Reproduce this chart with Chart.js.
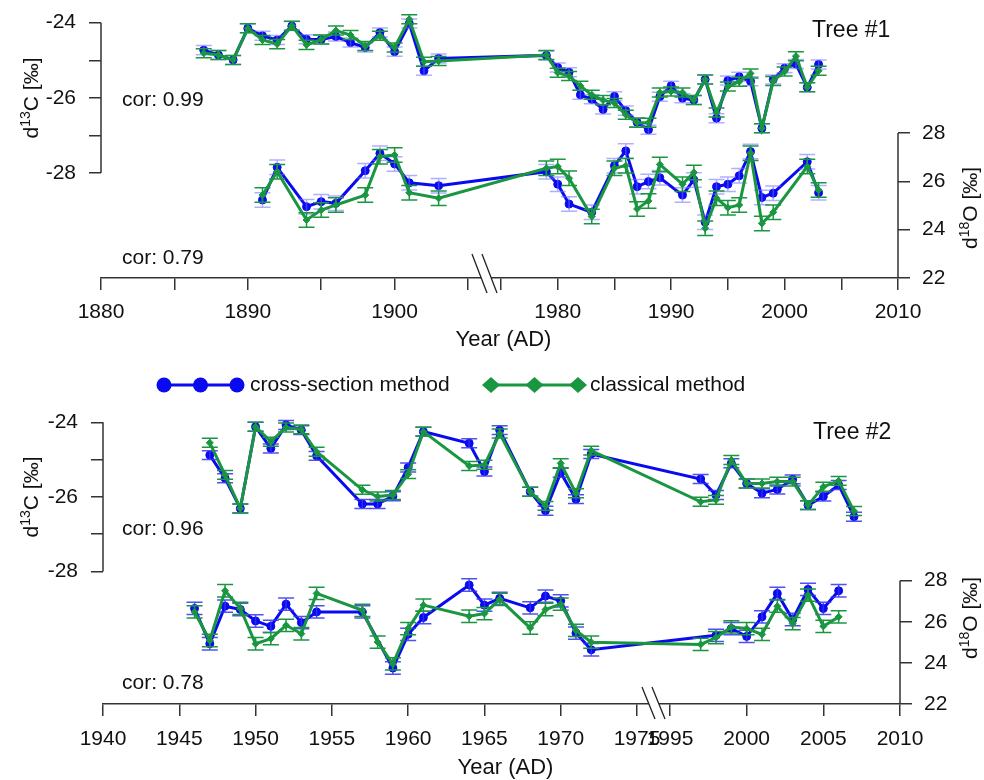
<!DOCTYPE html>
<html><head><meta charset="utf-8">
<script src="https://cdn.jsdelivr.net/npm/chart.js@4.4.1/dist/chart.umd.min.js"></script>
<style>
html,body{margin:0;padding:0;background:#fff;width:984px;height:780px;overflow:hidden}
.wrap{position:absolute;left:0;width:984px}
#w1{top:0;height:400px}
#w2{top:400px;height:380px}
</style></head><body>
<div class="wrap" id="w1"><canvas id="c1" width="984" height="400"></canvas></div>
<div class="wrap" id="w2"><canvas id="c2" width="984" height="380"></canvas></div>
<script>
// ---------------- DATA ----------------
// Tree #1
const tree1YearsC13 = [1887,1888,1889,1890,1891,1892,1893,1894,1895,1896,1897,1898,1899,1900,1901,1902,1903,
  1979,1980,1981,1982,1983,1984,1985,1986,1987,1988,1989,1990,1991,1992,1993,1994,1995,1996,1997,1998,1999,2000,2001,2002,2003];
const tree1CrossC13 = [-24.73,-24.86,-24.99,-24.15,-24.35,-24.46,-24.09,-24.44,-24.45,-24.37,-24.53,-24.66,-24.26,-24.77,-24.02,-25.28,-24.95,
  -24.87,-25.19,-25.32,-25.92,-26.04,-26.31,-25.96,-26.34,-26.65,-26.85,-25.97,-25.68,-26.01,-26.06,-25.51,-26.54,-25.54,-25.44,-25.56,-26.81,-25.51,-25.21,-25.10,-25.72,-25.11];
const tree1ClassC13 = [-24.81,-24.86,-24.99,-24.15,-24.46,-24.57,-24.08,-24.59,-24.45,-24.21,-24.33,-24.62,-24.35,-24.66,-23.91,-25.04,-25.02,
  -24.86,-25.33,-25.42,-25.68,-25.92,-26.06,-26.14,-26.45,-26.66,-26.66,-25.86,-25.83,-25.86,-26.06,-25.51,-26.39,-25.70,-25.57,-25.35,-26.81,-25.55,-25.30,-24.89,-25.72,-25.28];
const tree1YearsO18 = [1891,1892,1894,1895,1896,1898,1899,1900,1901,1903,
  1979,1980,1981,1983,1985,1986,1987,1988,1989,1991,1992,1993,1994,1995,1996,1997,1998,1999,2002,2003];
const tree1CrossO18 = [25.23,26.58,24.95,25.16,25.09,26.44,27.16,26.72,25.94,25.82,
  26.40,25.88,25.06,24.72,26.65,27.26,25.78,25.99,26.15,25.43,26.06,24.31,25.78,25.88,26.23,27.23,25.33,25.51,26.81,25.53];
const tree1ClassO18 = [25.43,26.40,24.40,24.81,25.02,25.43,27.02,27.09,25.53,25.30,
  26.54,26.61,26.13,24.54,26.54,26.65,24.86,25.19,26.70,25.88,26.37,24.06,25.30,24.91,25.02,27.16,24.26,24.72,26.61,25.64];
const tree1XTickYears  = [1880,1885,1890,1895,1900,1905,1975,1980,1985,1990,1995,2000,2005,2010];
const tree1XTickLabels = ['1880','','1890','','1900','','','1980','','1990','','2000','','2010'];
const tree1Cor = ['cor: 0.99','cor: 0.79'];

// Tree #2
const tree2YearsC13 = [1947,1948,1949,1950,1951,1952,1953,1954,1957,1958,1959,1960,1961,1964,1965,1966,1968,1969,1970,1971,1972,
  1997,1998,1999,2000,2001,2002,2003,2004,2005,2006,2007];
const tree2CrossC13 = [-24.88,-25.50,-26.31,-24.12,-24.70,-24.07,-24.21,-24.90,-26.19,-26.19,-25.98,-25.21,-24.25,-24.56,-25.32,-24.21,-25.86,-26.37,-25.35,-26.06,-24.85,
  -25.52,-25.95,-25.10,-25.64,-25.90,-25.80,-25.53,-26.22,-25.99,-25.68,-26.53];
const tree2ClassC13 = [-24.55,-25.41,-26.31,-24.12,-24.52,-24.14,-24.19,-24.79,-25.81,-25.99,-25.95,-25.39,-24.25,-25.17,-25.14,-24.30,-25.86,-26.24,-25.10,-25.90,-24.76,
  -26.13,-26.08,-25.01,-25.64,-25.64,-25.59,-25.59,-26.22,-25.73,-25.57,-26.38];
const tree2YearsO18Cross = [1946,1947,1948,1949,1950,1951,1952,1953,1954,1957,1959,1960,1961,1964,1965,1966,1968,1969,1970,1971,1972,
  1998,1999,2000,2001,2002,2003,2004,2005,2006];
const tree2CrossO18 = [26.65,24.93,26.76,26.60,26.04,25.78,26.86,25.96,26.48,26.48,23.75,25.39,26.21,27.79,26.81,27.14,26.68,27.25,27.02,25.45,24.64,
  25.34,25.67,25.29,26.24,27.38,26.11,27.58,26.65,27.51];
const tree2YearsO18Class = [1946,1947,1948,1949,1950,1951,1952,1953,1954,1957,1958,1959,1960,1961,1964,1965,1966,1968,1969,1970,1971,1972,
  1997,1998,1999,2000,2001,2002,2003,2004,2005,2006];
const tree2ClassO18 = [26.48,25.09,27.51,26.65,24.93,25.18,25.83,25.42,27.38,26.56,25.01,23.95,25.67,26.81,26.27,26.40,27.09,25.70,26.60,26.86,25.58,25.01,
  24.90,25.23,25.75,25.67,25.39,26.76,25.91,27.30,25.78,26.24];
const tree2XTickYears  = [1940,1945,1950,1955,1960,1965,1970,1975,1995,2000,2005,2010];
const tree2XTickLabels = ['1940','1945','1950','1955','1960','1965','1970','1975','1995','2000','2005','2010'];
const tree2Cor = ['cor: 0.96','cor: 0.78'];

const c13Ticks = [-28,-27,-26,-25,-24];
const c13TickLabels = ['-28','','-26','','-24'];
const o18Ticks = [22,24,26,28];
const o18TickLabels = ['22','24','26','28'];
const c13Err = 0.12;
const o18Err = 0.3;
const seriesNames = ['cross-section method','classical method'];

// ---------------- STYLE / LAYOUT ----------------
const FONT = '"Liberation Sans", Arial, Helvetica, sans-serif';
const f = px => px + 'px ' + FONT;
const BLUE = '#0a0af0';
const GREEN = '#1a9641';
const AXIS = '#333333';
const TXT = '#111111';

function makeMap(s){
  return yr => yr <= s.a1 ? (yr - s.a0)/(s.a1 - s.a0)*s.w1
                          : s.w1 + s.gap + (yr - s.b0)/(s.b1 - s.b0)*s.w2;
}
function fitRange(vHi, pHi, vLo, pLo, top, bottom){
  const k = (vHi - vLo)/(pLo - pHi);
  return {max: vHi + (pHi - top)*k, min: vLo - (bottom - pLo)*k};
}
const pts = (years, vals, map) => years.map((y,i)=>({x: map(y), y: vals[i]}));

function drawRotTitle(ctx, cx, cy, pre, sup, post){
  ctx.save();
  ctx.translate(cx, cy);
  ctx.rotate(-Math.PI/2);
  ctx.fillStyle = TXT;
  ctx.textBaseline = 'alphabetic';
  ctx.font = f(21); const w1 = ctx.measureText(pre).width, w3 = ctx.measureText(post).width;
  ctx.font = f(14); const w2 = ctx.measureText(sup).width;
  let x = -(w1+w2+w3)/2; const base = 7;
  ctx.font = f(21); ctx.textAlign='left'; ctx.fillText(pre, x, base); x += w1;
  ctx.font = f(14); ctx.fillText(sup, x, base - 8); x += w2;
  ctx.font = f(21); ctx.fillText(post, x, base);
  ctx.restore();
}

function buildPanel(canvasId, P){
  const map = makeMap(P.seg);
  const total = P.seg.w1 + P.seg.gap + P.seg.w2;
  const H = P.height, top = 5, bottom = P.axisY;
  const rL = fitRange(-24, P.c13Hi, -28, P.c13Lo, top, bottom);
  const rR = fitRange(28, P.o18Hi, 22, bottom, top, bottom);
  const tickFont = {family: FONT, size: 21};

  const decor = {
    id: 'decor'+canvasId,
    afterDatasetDraw(chart, args){
      const ds = chart.data.datasets[args.index];
      if (!ds.err) return;
      const ys = chart.scales[ds.yAxisID];
      const ctx = chart.ctx;
      ctx.save();
      ctx.strokeStyle = ds.errColor; ctx.lineWidth = 1.5;
      const cap = 8;
      args.meta.data.forEach((pt,i)=>{
        const v = ds.data[i].y, x = pt.x;
        const y1 = ys.getPixelForValue(v + ds.err), y2 = ys.getPixelForValue(v - ds.err);
        ctx.beginPath();
        ctx.moveTo(x,y1); ctx.lineTo(x,y2);
        ctx.moveTo(x-cap,y1); ctx.lineTo(x+cap,y1);
        ctx.moveTo(x-cap,y2); ctx.lineTo(x+cap,y2);
        ctx.stroke();
      });
      ctx.restore();
    },
    afterDraw(chart){
      const ctx = chart.ctx, ca = chart.chartArea;
      const yL = chart.scales.yL, yR = chart.scales.yR, xs = chart.scales.x;
      ctx.save();
      // axis segments
      ctx.strokeStyle = AXIS; ctx.lineWidth = 1.5;
      ctx.beginPath();
      ctx.moveTo(ca.left, yL.getPixelForValue(-24)); ctx.lineTo(ca.left, yL.getPixelForValue(-28));
      ctx.moveTo(ca.right, yR.getPixelForValue(28)); ctx.lineTo(ca.right, yR.getPixelForValue(22));
      ctx.stroke();
      // axis break
      const xa = xs.getPixelForValue(map(P.seg.a1)), xb = xs.getPixelForValue(map(P.seg.b0));
      const mid = (xa + xb)/2, ay = ca.bottom;
      const up = P.brk.up, dn = P.brk.dn, sl = P.brk.slant, sep = 5;
      ctx.fillStyle = '#fff';
      ctx.beginPath();
      ctx.moveTo(mid - sep - sl/2, ay - up); ctx.lineTo(mid + sep - sl/2, ay - up);
      ctx.lineTo(mid + sep + sl/2, ay + dn); ctx.lineTo(mid - sep + sl/2, ay + dn);
      ctx.closePath(); ctx.fill();
      ctx.strokeStyle = '#222'; ctx.lineWidth = 1.3;
      ctx.beginPath();
      [-sep, sep].forEach(o=>{ ctx.moveTo(mid + o - sl/2, ay - up); ctx.lineTo(mid + o + sl/2, ay + dn); });
      ctx.stroke();
      // texts
      ctx.fillStyle = TXT; ctx.textBaseline = 'middle';
      ctx.font = f(23); ctx.textAlign = 'left';
      ctx.fillText(P.title, P.titlePos[0], P.titlePos[1]);
      ctx.font = f(21);
      ctx.fillText(P.cor[0], 122, P.corY[0]);
      ctx.fillText(P.cor[1], 122, P.corY[1]);
      ctx.font = f(22); ctx.textAlign = 'center';
      ctx.fillText('Year (AD)', (ca.left+ca.right)/2 + 4, P.xTitleY);
      drawRotTitle(ctx, 31, P.yTitleL, 'd', '13', 'C [‰]');
      drawRotTitle(ctx, 970, P.yTitleR, 'd', '18', 'O [‰]');
      // legend
      if (P.legendY){
        const ly = P.legendY;
        ctx.lineWidth = 3;
        ctx.strokeStyle = BLUE; ctx.fillStyle = BLUE;
        ctx.beginPath(); ctx.moveTo(164, ly); ctx.lineTo(237, ly); ctx.stroke();
        [164, 200.5, 237].forEach(x=>{ ctx.beginPath(); ctx.arc(x, ly, 7.5, 0, Math.PI*2); ctx.fill(); });
        ctx.strokeStyle = GREEN; ctx.fillStyle = GREEN;
        ctx.beginPath(); ctx.moveTo(491, ly); ctx.lineTo(578, ly); ctx.stroke();
        [491, 534.5, 578].forEach(x=>{ ctx.beginPath(); ctx.moveTo(x-9,ly); ctx.lineTo(x,ly-8); ctx.lineTo(x+9,ly); ctx.lineTo(x,ly+8); ctx.closePath(); ctx.fill(); });
        ctx.fillStyle = TXT; ctx.font = f(21); ctx.textAlign = 'left'; ctx.textBaseline = 'middle';
        ctx.fillText(seriesNames[0], 250, ly);
        ctx.fillText(seriesNames[1], 590, ly);
      }
      ctx.restore();
    }
  };

  const lineDs = (label, data, color, axis, style, radius, err, errColor, order) => ({
    label, data, yAxisID: axis, xAxisID: 'x', borderColor: color, backgroundColor: color,
    borderWidth: 3, pointStyle: style, pointRadius: radius, pointBorderWidth: 1, pointBorderColor: color,
    pointBackgroundColor: color, tension: 0, showLine: true, err, errColor, order
  });

  return new Chart(document.getElementById(canvasId), {
    type: 'line',
    data: {
      datasets: [
        lineDs(seriesNames[1], pts(P.yC13, P.clC13, map), GREEN, 'yL', 'rectRot', 3.5, c13Err, GREEN, 0),
        lineDs(seriesNames[1], pts(P.yO18cl, P.clO18, map), GREEN, 'yR', 'rectRot', 3.5, o18Err, GREEN, 1),
        lineDs(seriesNames[0], pts(P.yC13, P.crC13, map), BLUE, 'yL', 'circle', 4, c13Err, P.blueErr, 2),
        lineDs(seriesNames[0], pts(P.yO18cr, P.crO18, map), BLUE, 'yR', 'circle', 4, o18Err, P.blueErr, 3)
      ]
    },
    options: {
      responsive: false, maintainAspectRatio: false, animation: false,
      layout: {padding: {top: top, left: 0, right: 0, bottom: 0}},
      plugins: {legend: {display: false}, tooltip: {enabled: false}},
      scales: {
        x: {
          type: 'linear', position: 'bottom', min: 0, max: total,
          afterBuildTicks: s => { s.ticks = P.xTicks.map(y => ({value: map(y)})); },
          afterFit: s => { s.height = H - bottom; s.paddingLeft = 0; s.paddingRight = 0; },
          ticks: {autoSkip: false, maxRotation: 0, minRotation: 0, padding: P.xPad, color: TXT, font: tickFont,
                  callback: (v, i) => P.xLabels[i]},
          grid: {drawOnChartArea: false, drawTicks: true, tickLength: 12, color: AXIS, lineWidth: 1.5},
          border: {display: true, color: AXIS, width: 1.5}
        },
        yL: {
          type: 'linear', position: 'left', min: rL.min, max: rL.max,
          afterBuildTicks: s => { s.ticks = c13Ticks.map(v => ({value: v})); },
          afterFit: s => { s.width = P.left; s.paddingTop = 0; s.paddingBottom = 0; },
          ticks: {autoSkip: false, padding: 13, color: TXT, font: tickFont, callback: (v, i) => c13TickLabels[i]},
          grid: {drawOnChartArea: false, drawTicks: true, tickLength: 12, color: AXIS, lineWidth: 1.5},
          border: {display: false}
        },
        yR: {
          type: 'linear', position: 'right', min: rR.min, max: rR.max,
          afterBuildTicks: s => { s.ticks = o18Ticks.map(v => ({value: v})); },
          afterFit: s => { s.width = 984 - P.right; s.paddingTop = 0; s.paddingBottom = 0; },
          ticks: {autoSkip: false, padding: 12, color: TXT, font: tickFont, callback: (v, i) => o18TickLabels[i]},
          grid: {drawOnChartArea: false, drawTicks: true, tickLength: 12, color: AXIS, lineWidth: 1.5},
          border: {display: false}
        }
      }
    },
    plugins: [decor]
  });
}

buildPanel('c1', {
  height: 400, axisY: 278, left: 101, right: 898,
  seg: {a0: 1880, a1: 1905, w1: 367, gap: 33, b0: 1975, b1: 2010, w2: 397},
  c13Hi: 22.7, c13Lo: 173, o18Hi: 133,
  yC13: tree1YearsC13, crC13: tree1CrossC13, clC13: tree1ClassC13,
  yO18cr: tree1YearsO18, crO18: tree1CrossO18, yO18cl: tree1YearsO18, clO18: tree1ClassO18,
  xTicks: tree1XTickYears, xLabels: tree1XTickLabels, xPad: 10,
  title: 'Tree #1', titlePos: [812, 31], cor: tree1Cor, corY: [100, 258],
  xTitleY: 340, yTitleL: 98, yTitleR: 208, legendY: 385,
  brk: {up: 24, dn: 15, slant: 15}, blueErr: 'rgba(110,110,255,0.55)'
});
buildPanel('c2', {
  height: 380, axisY: 304, left: 103, right: 900,
  seg: {a0: 1940, a1: 1975, w1: 534, gap: 33, b0: 1995, b1: 2010, w2: 230},
  c13Hi: 22.3, c13Lo: 171.5, o18Hi: 180.7,
  yC13: tree2YearsC13, crC13: tree2CrossC13, clC13: tree2ClassC13,
  yO18cr: tree2YearsO18Cross, crO18: tree2CrossO18, yO18cl: tree2YearsO18Class, clO18: tree2ClassO18,
  xTicks: tree2XTickYears, xLabels: tree2XTickLabels, xPad: 11,
  title: 'Tree #2', titlePos: [813, 33], cor: tree2Cor, corY: [129, 283],
  xTitleY: 368, yTitleL: 97, yTitleR: 218, legendY: 0,
  brk: {up: 17, dn: 15, slant: 13}, blueErr: 'rgba(50,50,240,0.85)'
});
</script>
</body></html>
